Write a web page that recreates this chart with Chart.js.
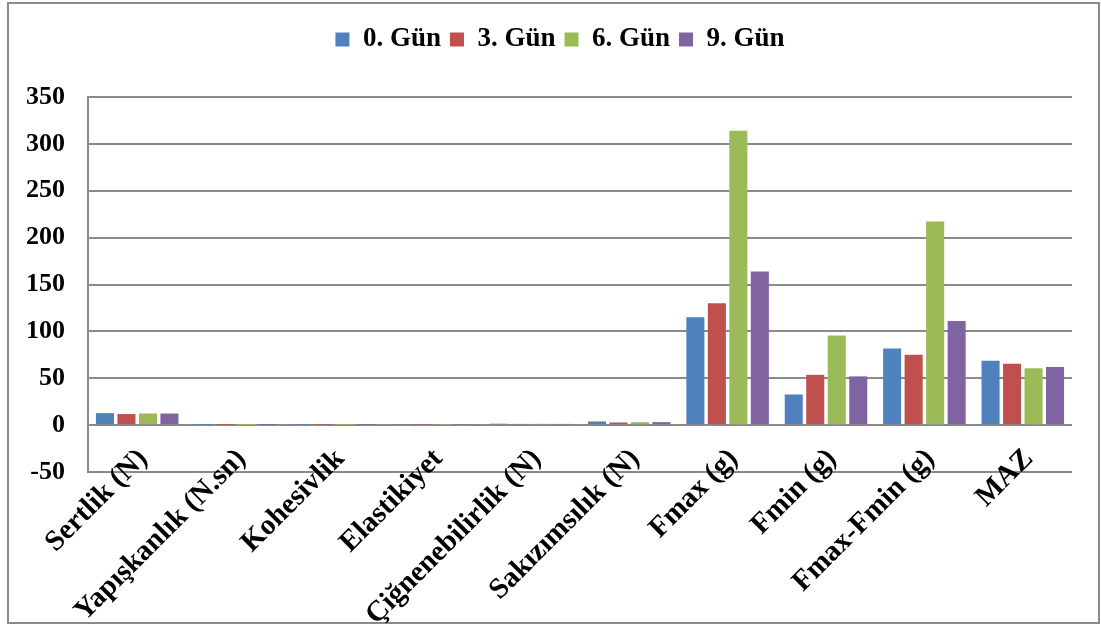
<!DOCTYPE html>
<html>
<head>
<meta charset="utf-8">
<script src="https://cdn.jsdelivr.net/npm/chart.js@4/dist/chart.umd.min.js"></script>
<style>
  html, body { margin: 0; padding: 0; background: #fff; }
  #wrap { width: 1101px; height: 630px; }
</style>
</head>
<body>
<div id="wrap"><canvas id="c" width="1101" height="630"></canvas></div>
<script>
// Texture profile parameters per storage day
const categories = ['Sertlik (N)', 'Yapışkanlık (N.sn)', 'Kohesivlik', 'Elastikiyet',
  'Çiğnenebilirlik (N)', 'Sakızımsılık (N)', 'Fmax (g)', 'Fmin (g)', 'Fmax-Fmin (g)', 'MAZ'];
const seriesNames = ['0. Gün', '3. Gün', '6. Gün', '9. Gün'];
const day0 = [12.8, 0.2, 0.4, 0.6, 1.5, 3.9, 115, 32.7, 81.8, 68.6];
const day3 = [11.8, 0.2, 0.4, 0.6, 1.3, 2.8, 130, 53.7, 75.0, 65.4];
const day6 = [12.4, 0.2, 0.4, 0.6, 1.4, 3.2, 314, 95.7, 217.3, 60.8];
const day9 = [12.4, 0.2, 0.4, 0.6, 1.3, 3.2, 164, 52.0, 111.0, 61.9];
const yTicks = [-50, 0, 50, 100, 150, 200, 250, 300, 350];

const colors = ['#4F81BD', '#C0504D', '#9BBB59', '#8064A2'];
const values = [day0, day3, day6, day9];
const FONT = 'Liberation Serif, Times New Roman, serif';

// Outer frame and white background
const framePlugin = {
  id: 'frame',
  beforeDraw(chart) {
    const ctx = chart.ctx;
    ctx.save();
    ctx.fillStyle = '#fff';
    ctx.fillRect(0, 0, chart.width, chart.height);
    ctx.strokeStyle = '#8a8a8a';
    ctx.lineWidth = 2;
    ctx.strokeRect(8, 3, 1091, 620);
    ctx.restore();
  }
};

// Extra space under the legend, and legend centred a little right of the canvas middle
const legendSpace = {
  id: 'legendSpace',
  beforeInit(chart) {
    const origFit = chart.legend.fit;
    chart.legend.fit = function () {
      origFit.call(this);
      this.height += 34;
    };
  },
  afterLayout(chart) {
    chart.legend.left = 48;
  }
};

new Chart(document.getElementById('c'), {
  type: 'bar',
  data: {
    labels: categories,
    datasets: seriesNames.map((name, i) => ({
      label: name,
      data: values[i],
      backgroundColor: colors[i],
      borderWidth: 0,
      categoryPercentage: 0.874,
      barPercentage: 0.84
    }))
  },
  plugins: [framePlugin, legendSpace],
  options: {
    responsive: false,
    animation: false,
    layout: { padding: { top: 17, left: 0, right: 29, bottom: 0 } },
    plugins: {
      tooltip: { enabled: false },
      legend: {
        position: 'top',
        labels: {
          boxWidth: 14,
          boxHeight: 14,
          padding: 9,
          color: '#000',
          font: { family: FONT, size: 27, weight: 'bold' }
        }
      }
    },
    scales: {
      x: {
        grid: { display: false, drawTicks: false },
        border: { display: false },
        ticks: {
          autoSkip: false,
          minRotation: 45,
          maxRotation: 45,
          padding: -30,
          labelOffset: 6,
          color: '#000',
          font: { family: FONT, size: 29, weight: 'bold' }
        },
        afterFit(scale) {
          scale.height = 158;
          scale.paddingLeft = 0;
          scale.paddingRight = 0;
          // category labels rise slightly into the plot, so no clipping to the axis box
          scale._computeLabelArea = () => null;
        }
      },
      y: {
        min: -50,
        max: 350,
        afterBuildTicks(scale) {
          scale.ticks = yTicks.map(v => ({ value: v }));
        },
        grid: { color: '#8a8a8a', lineWidth: 2, drawTicks: false },
        border: { display: true, color: '#8a8a8a', width: 2 },
        ticks: {
          padding: 23,
          color: '#000',
          font: { family: FONT, size: 26, weight: 'bold' }
        },
        afterFit(scale) {
          scale.width = 88;
        }
      }
    }
  }
});
</script>
</body>
</html>
